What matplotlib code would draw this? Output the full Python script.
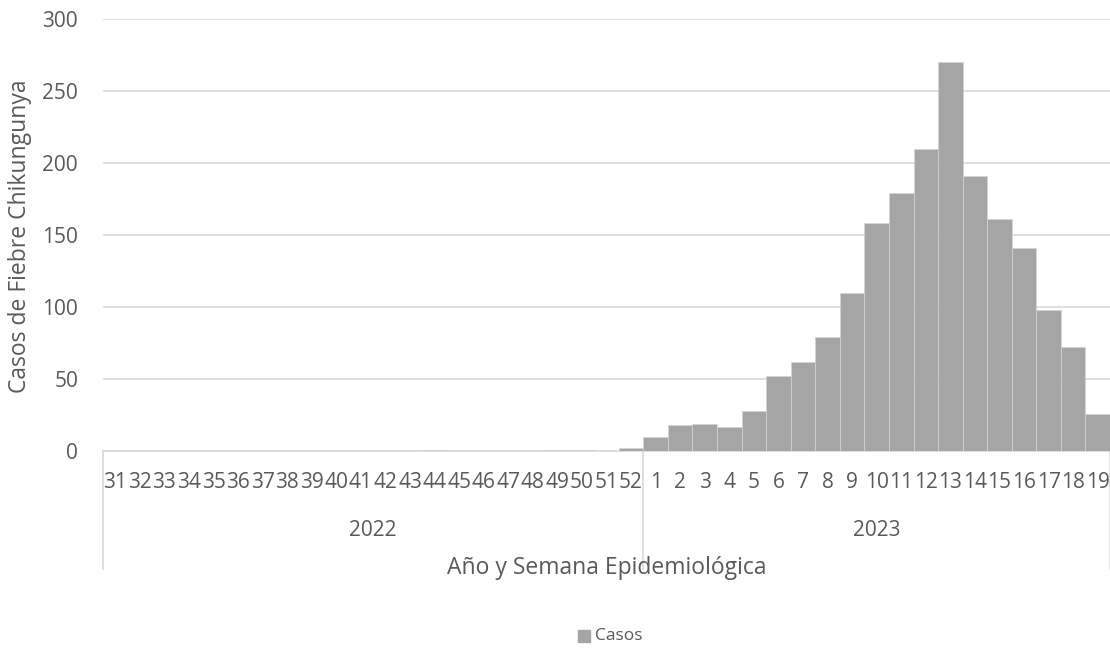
import numpy as np
import matplotlib
matplotlib.use("Agg")
import matplotlib.pyplot as plt
import matplotlib.transforms as mtransforms
from matplotlib.patches import Rectangle

# semanas epidemiologicas y casos por anio
years = ["2022", "2023"]
weeks_2022 = list(range(31, 53))
weeks_2023 = list(range(1, 20))
cases_2022 = [0, 0, 0, 0, 0, 0, 0, 0, 0, 0, 0, 0, 0, 1, 0, 0, 0, 0, 1, 1, 0, 2]
cases_2023 = [10, 18, 19, 17, 28, 52, 62, 79, 110, 158, 179, 210, 270,
              191, 161, 141, 98, 72, 26]
yticks = [0, 50, 100, 150, 200, 250, 300]

BAR = "#A5A5A5"
GRID = "#D9D9D9"
TXT = "#595959"
FONT = "Open Sans"
TICK_FS = 15
TITLE_FS = 16.5

plt.rcParams["font.family"] = [FONT, "DejaVu Sans"]

week_labels = [str(w) for w in weeks_2022 + weeks_2023]
cases = cases_2022 + cases_2023
x = np.arange(len(cases))

fig = plt.figure(figsize=(11.10, 6.48), dpi=100)
ax = fig.add_axes([103 / 1110, 1 - 451 / 648, 1 - 103 / 1110, 432 / 648])

ax.bar(x, cases, width=1.0, color=BAR, edgecolor="#d4d4d4", linewidth=0.5, zorder=3)

ax.set_xlim(-0.5, len(cases) - 0.5)
ax.set_ylim(0, 300)
ax.set_yticks(yticks)
ax.set_yticklabels([str(t) for t in yticks])
ax.tick_params(axis="y", length=0, pad=18, labelsize=TICK_FS, labelcolor=TXT)
ax.set_xticks([])
ax.yaxis.grid(True, color=GRID, linewidth=1.2, zorder=0)
for s in ["top", "right", "left"]:
    ax.spines[s].set_visible(False)
ax.spines["bottom"].set_color(GRID)
ax.spines["bottom"].set_linewidth(1.2)

# eje de categorias en dos niveles: semana y anio
trans = mtransforms.blended_transform_factory(ax.transData, ax.transAxes)
for xi, lab in zip(x, week_labels):
    ax.text(xi, -0.074, lab, transform=trans, ha="center", va="center",
            fontsize=TICK_FS, color=TXT, clip_on=False)

bounds = [-0.5, len(weeks_2022) - 0.5, len(cases) - 0.5]
for b in bounds:
    ax.plot([b, b], [0, -0.272], transform=trans, color=GRID, linewidth=1.2,
            clip_on=False)
for i, yr in enumerate(years):
    ax.text((bounds[i] + bounds[i + 1]) / 2, -0.185, yr, transform=trans,
            ha="center", va="center", fontsize=TICK_FS, color=TXT, clip_on=False)

fig.text(607 / 1110, 1 - 568 / 648, "Año y Semana Epidemiológica", ha="center",
         va="center", fontsize=TITLE_FS, color=TXT)
fig.text(20 / 1110, 1 - 236 / 648, "Casos de Fiebre Chikungunya", ha="center",
         va="center", rotation=90, fontsize=TITLE_FS, color=TXT)

# leyenda
fig.patches.append(Rectangle((578 / 1110, 1 - 642 / 648), 12 / 1110, 12 / 648,
                             transform=fig.transFigure, color=BAR))
fig.text(595 / 1110, 1 - 636 / 648, "Casos", ha="left", va="center",
         fontsize=12.5, color=TXT)

fig.savefig("out.png", dpi=100)
